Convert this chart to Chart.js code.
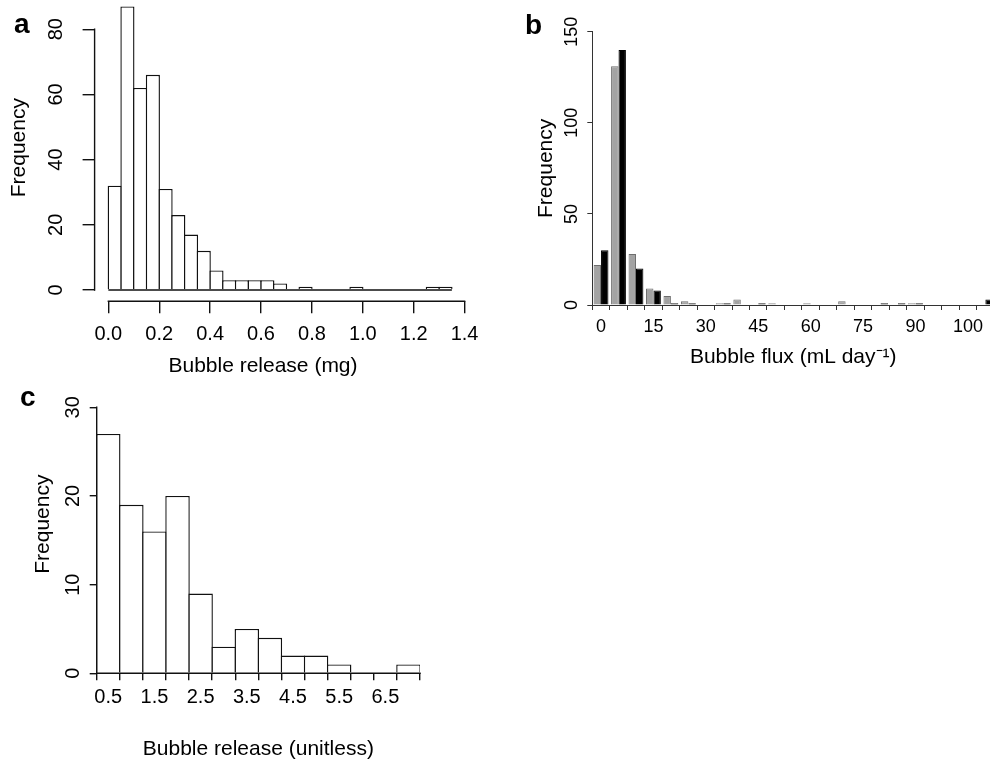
<!DOCTYPE html>
<html>
<head>
<meta charset="utf-8">
<script src="https://cdn.jsdelivr.net/npm/chart.js@4.4.1/dist/chart.umd.min.js"></script>
<style>
  html, body { margin: 0; padding: 0; background: #fff; overflow: hidden; }
  body { width: 990px; height: 762px; position: relative; }
  canvas { position: absolute; }
  .panel_tag { position: absolute; font: bold 28px 'Liberation Sans', Arial, sans-serif; line-height: 28px; color: #000; }
  .axis_title { position: absolute; font: 21px 'Liberation Sans', Arial, sans-serif; line-height: 24px; color: #000; text-align: center; }
</style>
</head>
<body>
<canvas id="chart_a" width="490" height="384" style="left:0;top:-6px"></canvas>
<canvas id="chart_b" width="480" height="370" style="left:520px;top:0"></canvas>
<canvas id="chart_c" width="450" height="402" style="left:0;top:360px"></canvas>
<div class="panel_tag" style="left:14px;top:10px">a</div>
<div class="panel_tag" style="left:525px;top:11px">b</div>
<div class="panel_tag" style="left:20px;top:383px">c</div>
<div class="axis_title" style="left:143px;top:353px;width:240px">Bubble release (mg)</div>
<script>
// panel a - bubble release (mg), histogram bins 0.05 wide (bin centres)
var release_mg_bins = [0.025, 0.075, 0.125, 0.175, 0.225, 0.275, 0.325, 0.375, 0.425, 0.475,
                       0.525, 0.575, 0.625, 0.675, 0.725, 0.775, 0.825, 0.875, 0.925, 0.975,
                       1.025, 1.075, 1.125, 1.175, 1.225, 1.275, 1.325];
var release_mg_counts = [32, 87, 62, 66, 31, 23, 17, 12, 6, 3,
                         3, 3, 3, 2, 0, 1, 0, 0, 0, 1,
                         0, 0, 0, 0, 0, 1, 1];
var release_mg_x_ticks = [0, 0.2, 0.4, 0.6, 0.8, 1.0, 1.2, 1.4];
var release_mg_y_ticks = [0, 20, 40, 60, 80];

// panel b - bubble flux, two series side by side per group
var flux_groups = ['0', '5', '10', '15', '20', '25', '30', '35', '40', '45', '50', '55',
                   '60', '65', '70', '75', '80', '85', '90', '95', '100', '105', '110'];
var flux_grey = [22, 131, 28, 9, 5, 2, 0, 1, 3, 0, 1, 0, 1, 0, 2, 0, 0, 0, 1, 0, 0, 0, 0];
var flux_black = [30, 140, 20, 8, 1, 1, 0, 1, 0, 1, 0, 0, 0, 0, 0, 0, 1, 1, 1, 0, 0, 0, 3];
var flux_x_labels = ['0', '15', '30', '45', '60', '75', '90', '100'];
var flux_y_ticks = [0, 50, 100, 150];

// panel c - bubble release (unitless), bins 0.5 wide
var unitless_bins = [0.5, 1.0, 1.5, 2.0, 2.5, 3.0, 3.5, 4.0, 4.5, 5.0, 5.5, 6.0, 6.5, 7.0];
var unitless_counts = [27, 19, 16, 20, 9, 3, 5, 4, 2, 2, 1, 0, 0, 1];
var unitless_edges = [0.25, 0.75, 1.25, 1.75, 2.25, 2.75, 3.25, 3.75, 4.25, 4.75, 5.25, 5.75, 6.25, 6.75, 7.25];
var unitless_x_labels = ['0.5', '1.5', '2.5', '3.5', '4.5', '5.5', '6.5'];
var unitless_y_ticks = [0, 10, 20, 30];

var FONT = "'Liberation Sans', Arial, sans-serif";
var LINE = 1.4;

function font(size) {
  return { family: FONT, size: size };
}

function set_ticks(values) {
  return function(scale) {
    scale.ticks = values.map(function(v) { return { value: v }; });
  };
}

function fix_size(prop, size) {
  return function(scale) {
    scale[prop] = size;
    scale.paddingTop = 0;
    scale.paddingBottom = 0;
    scale.paddingLeft = 0;
    scale.paddingRight = 0;
  };
}

function tick_grid(len) {
  return {
    display: true, drawOnChartArea: false, drawTicks: true, tickLength: len,
    color: '#111', tickColor: '#111', lineWidth: LINE, offset: false
  };
}

// R style axis line: only from the first to the last tick
var r_axis_lines = {
  id: 'r_axis_lines',
  afterDraw: function(chart, args, opts) {
    var ctx = chart.ctx;
    ctx.save();
    ctx.strokeStyle = '#111';
    ctx.lineWidth = LINE;
    ctx.lineCap = 'square';
    (opts.axes || []).forEach(function(id) {
      var s = chart.scales[id];
      var first = s.getPixelForValue(s.ticks[0].value);
      var last = s.getPixelForValue(s.ticks[s.ticks.length - 1].value);
      ctx.beginPath();
      if (s.isHorizontal()) {
        ctx.moveTo(first, s.top);
        ctx.lineTo(last, s.top);
      } else {
        ctx.moveTo(s.right, first);
        ctx.lineTo(s.right, last);
      }
      ctx.stroke();
    });
    ctx.restore();
  }
};

var common_plugins = {
  legend: { display: false },
  tooltip: { enabled: false }
};

// ---- panel a
new Chart(document.getElementById('chart_a'), {
  type: 'bar',
  data: {
    datasets: [{
      type: 'line',
      order: 0,
      data: [{ x: release_mg_bins[0] - 0.025, y: 0 }, { x: release_mg_bins[release_mg_bins.length - 1] + 0.025, y: 0 }],
      borderColor: '#111',
      borderWidth: LINE,
      pointRadius: 0
    }, {
      order: 1,
      data: release_mg_bins.map(function(x, i) { return { x: x, y: release_mg_counts[i] }; }),
      backgroundColor: '#fff',
      borderColor: '#111',
      borderWidth: LINE,
      barPercentage: 1.11,
      categoryPercentage: 1
    }]
  },
  options: {
    responsive: false,
    animation: false,
    layout: { padding: { top: 0, right: 24.4, bottom: 0, left: 0 } },
    plugins: Object.assign({ r_axis_lines: { axes: ['x', 'y'] } }, common_plugins),
    scales: {
      x: {
        type: 'linear', min: -0.054, max: 1.404, offset: false,
        afterBuildTicks: set_ticks(release_mg_x_ticks),
        afterFit: fix_size('height', 76.7),
        ticks: { autoSkip: false, maxRotation: 0, padding: 9, font: font(20), color: '#000',
                 callback: function(v) { return v.toFixed(1); } },
        grid: tick_grid(12),
        border: { display: false }
      },
      y: {
        min: -3.48, max: 90.81,
        afterBuildTicks: set_ticks(release_mg_y_ticks),
        afterFit: fix_size('width', 94.6),
        ticks: { minRotation: 90, maxRotation: 90, crossAlign: 'center', padding: 14.5, font: font(20), color: '#000' },
        grid: tick_grid(12),
        border: { display: false },
        title: { display: true, text: 'Frequency', font: font(21), color: '#000', padding: { top: 6.4, bottom: 0 } }
      }
    }
  },
  plugins: [r_axis_lines]
});

// ---- panel b
new Chart(document.getElementById('chart_b'), {
  type: 'bar',
  data: {
    labels: flux_groups,
    datasets: [{
      data: flux_grey,
      backgroundColor: '#a3a3a3',
      borderColor: '#6e6e6e',
      borderWidth: 1,
      barPercentage: 1,
      categoryPercentage: 0.85
    }, {
      data: flux_black,
      backgroundColor: '#000',
      borderColor: '#000',
      borderWidth: 1,
      barPercentage: 1,
      categoryPercentage: 0.85
    }]
  },
  options: {
    responsive: false,
    animation: false,
    layout: { padding: { top: 31.7, right: 5.9, bottom: 0, left: 0 } },
    plugins: common_plugins,
    scales: {
      x: {
        afterFit: fix_size('height', 65),
        ticks: { autoSkip: false, maxRotation: 0, padding: 6.5, font: font(18), color: '#000',
                 callback: function(v, i) { return i % 3 === 0 ? flux_x_labels[i / 3] : ''; } },
        grid: { display: true, drawOnChartArea: false, drawTicks: true, tickLength: 5,
                color: '#333', tickColor: '#333', lineWidth: 1, offset: true },
        border: { display: true, color: '#333', width: 1 },
        title: { display: true, text: 'Bubble flux (mL day⁻¹)', font: font(21), color: '#000', padding: { top: 0, bottom: 0 } }
      },
      y: {
        min: 0, max: 150,
        afterBuildTicks: set_ticks(flux_y_ticks),
        afterFit: fix_size('width', 72.3),
        ticks: { minRotation: 90, maxRotation: 90, crossAlign: 'center', padding: 0, font: font(18), color: '#000' },
        grid: { display: true, drawOnChartArea: false, drawTicks: true, tickLength: 5,
                color: '#333', tickColor: '#333', lineWidth: 1 },
        border: { display: true, color: '#333', width: 1 },
        title: { display: true, text: 'Frequency', font: font(21), color: '#000', padding: { top: 14.1, bottom: 0 } }
      }
    }
  }
});

// ---- panel c
new Chart(document.getElementById('chart_c'), {
  type: 'bar',
  data: {
    datasets: [{
      data: unitless_bins.map(function(x, i) { return { x: x, y: unitless_counts[i] }; }),
      backgroundColor: '#fff',
      borderColor: '#111',
      borderWidth: LINE,
      barPercentage: 1.06,
      categoryPercentage: 1
    }]
  },
  options: {
    responsive: false,
    animation: false,
    layout: { padding: { top: 15, right: 30, bottom: 0, left: 0 } },
    plugins: Object.assign({ r_axis_lines: { axes: ['x', 'y'] } }, common_plugins),
    scales: {
      x: {
        type: 'linear', min: 0.25, max: 7.25, offset: false,
        afterBuildTicks: set_ticks(unitless_edges),
        afterFit: fix_size('height', 88.7),
        ticks: { autoSkip: false, maxRotation: 0, padding: 5.2, labelOffset: 11.55, font: font(20), color: '#000',
                 callback: function(v, i) { return i % 2 === 0 && i / 2 < unitless_x_labels.length ? unitless_x_labels[i / 2] : ''; } },
        grid: tick_grid(7),
        border: { display: false },
        title: { display: true, text: 'Bubble release (unitless)', font: font(21), color: '#000', padding: { top: 0, bottom: 0 } }
      },
      y: {
        min: 0, max: 33.64,
        afterBuildTicks: set_ticks(unitless_y_ticks),
        afterFit: fix_size('width', 96.7),
        ticks: { minRotation: 90, maxRotation: 90, crossAlign: 'center', padding: 5.3, font: font(20), color: '#000' },
        grid: tick_grid(7),
        border: { display: false },
        title: { display: true, text: 'Frequency', font: font(21), color: '#000', padding: { top: 30.4, bottom: 0 } }
      }
    }
  },
  plugins: [r_axis_lines]
});
</script>
</body>
</html>
